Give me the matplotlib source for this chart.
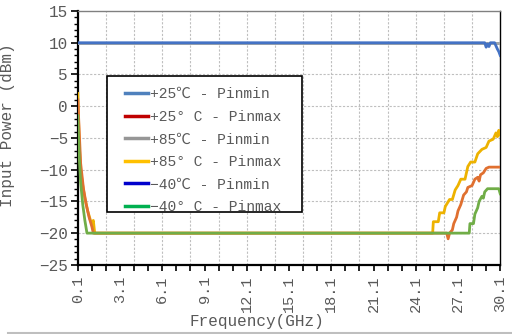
import matplotlib
matplotlib.use('Agg')
import matplotlib.pyplot as plt
from matplotlib.lines import Line2D
from matplotlib.patches import Rectangle

plt.rcParams['font.family'] = ['Liberation Mono', 'Noto Sans CJK SC', 'DejaVu Sans']

TEXT = '#595959'

labels = ['+25℃ - Pinmin', '+25° C - Pinmax', '+85℃ - Pinmin',
          '+85° C - Pinmax', '−40℃ - Pinmin', '−40° C - Pinmax']
legend_colors = ['#4F81BD', '#C00000', '#969696', '#FFC000', '#0000CC', '#00B050']

# Pinmin traces sit on the 10 dBm limit
f_min = [0.1, 29.0, 29.1, 29.2, 29.3, 29.4, 29.5, 29.7, 29.8, 29.9, 30.0, 30.1]
p25_min = [10, 10, 9.3, 9.8, 9.4, 10, 10, 10, 9.5, 9.0, 8.6, 8.0]
p85_min = [10, 10, 10, 10, 10, 10, 10, 10, 10, 10, 10, 10]
m40_min = [10, 10, 10, 10, 10, 10, 10, 10, 10, 10, 10, 10]

f85_max = [0.1, 0.2, 0.3, 0.45, 0.6, 0.8, 1.0, 1.1, 1.2, 1.3, 25.3, 25.35, 25.7,
           25.8, 26.1, 26.2, 26.5, 26.7, 26.9, 27.1, 27.3, 27.6, 27.8, 28.0,
           28.3, 28.5, 28.8, 29.1, 29.3, 29.6, 29.8, 29.9, 30.0, 30.1]
p85_max = [2.0, -6, -10, -12.5, -14.5, -16.5, -18, -18.5, -18, -20, -20, -18.2,
           -18.2, -16.8, -16.8, -15.8, -14.7, -14.7, -13.2, -12.5, -11.5, -11.5,
           -9.5, -8.8, -8.8, -7.5, -6.8, -6.5, -5.5, -5.2, -4.2, -4.8, -3.8, -4.5]

f25_max = [0.1, 0.3, 0.5, 0.7, 0.9, 1.1, 1.2, 26.3, 26.4, 26.5, 26.7, 26.8, 27.0,
           27.1, 27.3, 27.5, 27.7, 27.8, 28.1, 28.3, 28.5, 28.6, 28.7, 28.9,
           29.1, 29.3, 30.1]
p25_max = [1.0, -9, -13, -15.5, -17.5, -19, -20, -20, -20.9, -20, -19.5, -18.5,
           -17.5, -16.5, -15.5, -14, -13.5, -12.8, -12.5, -11.5, -11.2, -11.8,
           -10.8, -10.5, -9.8, -9.6, -9.6]

f40_max = [0.1, 0.2, 0.3, 0.45, 0.6, 0.75, 27.9, 27.95, 28.2, 28.3, 28.5, 28.6,
           28.8, 28.9, 29.0, 29.2, 30.0, 30.1]
m40_max = [-1.5, -8, -12, -15.5, -18, -20, -20, -18.5, -18.5, -17, -16, -15,
           -14.2, -14.5, -13.5, -13, -13, -13.8]

fig = plt.figure(figsize=(5.12, 3.34), dpi=100)
ax = fig.add_axes([0.152, 0.207, 0.825, 0.760])

lw = 2.0
ax.plot(f_min, m40_min, color='#5B9BD5', lw=lw, zorder=3)
ax.plot(f_min, p85_min, color='#A5A5A5', lw=lw, zorder=3)
ax.plot(f_min, p25_min, color='#4472C4', lw=lw, zorder=4)
ax.plot(f85_max, p85_max, color='#EDB200', lw=lw, zorder=3)
ax.plot(f25_max, p25_max, color='#E07030', lw=lw, zorder=4)
ax.plot(f40_max, m40_max, color='#70AD47', lw=lw, zorder=5)

ax.set_xlim(0.1, 30.1)
ax.set_ylim(-25, 15)

xt = [0.1 + i for i in range(31)]
ax.set_xticks(xt)
ax.set_xticklabels(['%.1f' % x if i % 3 == 0 else '' for i, x in enumerate(xt)],
                   rotation=90, color=TEXT, fontsize=11)
ax.set_yticks(range(-25, 16, 5))
ax.set_yticks(range(-25, 16), minor=True)
ax.tick_params(axis='y', which='major', length=5, width=1.2, labelsize=11.5,
               labelcolor=TEXT, pad=2)
ax.tick_params(axis='y', which='minor', length=3, width=1)
ax.tick_params(axis='x', length=4, width=1.2, pad=4)

# dashed grid, vertical every 2 GHz, horizontal every 5 dB
for x in [0.1 + 2 * i for i in range(1, 15)]:
    ax.axvline(x, color='#BFBFBF', lw=0.8, ls=(0, (2, 1.5)), zorder=1)
for y in range(-20, 15, 5):
    ax.axhline(y, color='#BFBFBF', lw=0.8, ls=(0, (2, 1.5)), zorder=1)

for side in ['left', 'bottom']:
    ax.spines[side].set_linewidth(1.6)
ax.spines['right'].set_linewidth(1.0)
ax.spines['top'].set_color('#808080')
ax.spines['top'].set_linewidth(1.0)

ax.set_xlabel('Frequency(GHz)', color=TEXT, fontsize=11.5)
ax.xaxis.set_label_coords(0.424, -0.195)
ax.set_ylabel('Input Power (dBm)', color=TEXT, fontsize=11.5)
ax.yaxis.set_label_coords(-0.148, 0.55)

# legend box drawn separately so it can be wider than the entries
ax.add_patch(Rectangle((0.069, 0.2095), 0.462, 0.5335, transform=ax.transAxes,
                       facecolor='white', edgecolor='black', lw=1.2, zorder=6))
handles = [Line2D([], [], color=c, lw=2.5) for c in legend_colors]
leg = ax.legend(handles, labels, loc='upper left', bbox_to_anchor=(0.112, 0.700),
                fontsize=10.5, frameon=False, handlelength=1.6, handletextpad=0.1,
                labelspacing=0.59, borderpad=0, borderaxespad=0)
leg.set_zorder(7)
for t in leg.get_texts():
    t.set_color(TEXT)

fig.add_artist(Line2D([0.016, 1.0], [0.003, 0.003], color='#BFBFBF', lw=1.5))

fig.savefig('out.png', dpi=100)
